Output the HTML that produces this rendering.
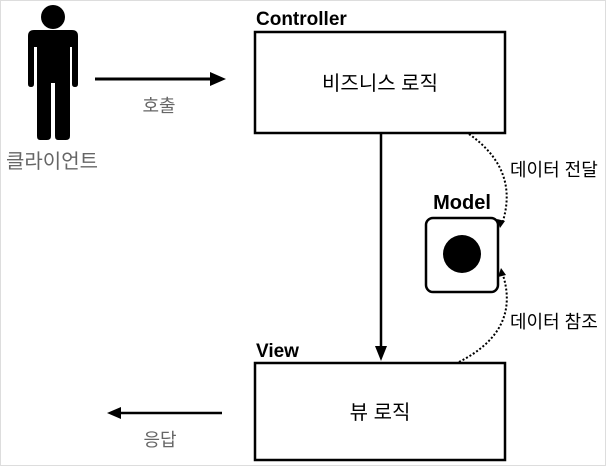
<!DOCTYPE html><html><head><style>body{margin:0;background:#fff}</style></head><body>
<svg width="606" height="466" xmlns="http://www.w3.org/2000/svg" font-family="Liberation Sans, Noto Sans CJK KR, sans-serif">
<rect x="0.5" y="0.5" width="605" height="465" fill="#fff" stroke="#ddd"/>
<circle cx="53" cy="17" r="12"/>
<path d="M34 30 H72 Q78 30 78 36 V84 Q78 87 75 87 Q72 87 72 84 V47 H70 V136 Q70 140 66 140 H58 Q55 140 55 136 V83 H51 V136 Q51 140 47 140 H40 Q37 140 37 136 V47 H34 V84 Q34 87 31 87 Q28 87 28 84 V36 Q28 30 34 30Z"/>
<text x="52" y="168" font-size="20" fill="#666" text-anchor="middle">클라이언트</text>
<line x1="95" y1="79" x2="212" y2="79" stroke="#000" stroke-width="3"/>
<path d="M226 79 L210 72 V86Z"/>
<text x="159" y="112" font-size="18" fill="#666" text-anchor="middle">호출</text>
<text x="256" y="25" font-size="19" font-weight="bold">Controller</text>
<rect x="255" y="32" width="250" height="101" fill="#fff" stroke="#000" stroke-width="2.5"/>
<text x="380" y="90" font-size="20" text-anchor="middle">비즈니스 로직</text>
<line x1="381" y1="133" x2="381" y2="348" stroke="#000" stroke-width="2.5"/>
<path d="M381 361 L375 346 H387Z"/>
<text x="256" y="357" font-size="19" font-weight="bold">View</text>
<rect x="255" y="363" width="250" height="97" fill="#fff" stroke="#000" stroke-width="2.5"/>
<text x="380" y="419" font-size="20" text-anchor="middle">뷰 로직</text>
<line x1="222" y1="413" x2="118" y2="413" stroke="#000" stroke-width="2.5"/>
<path d="M107 413 L121 407 V419Z"/>
<text x="160" y="446" font-size="18" fill="#666" text-anchor="middle">응답</text>
<text x="462" y="209" font-size="20" font-weight="bold" text-anchor="middle">Model</text>
<rect x="426" y="218" width="72" height="74" rx="7" fill="#fff" stroke="#000" stroke-width="2.5"/>
<circle cx="462" cy="254" r="19"/>
<path d="M469 134 Q520 170 502 224" fill="none" stroke="#000" stroke-width="2" stroke-dasharray="2 2"/>
<path d="M500 228 L497 219 L505 221Z"/>
<path d="M459 362 Q522 330 502 272" fill="none" stroke="#000" stroke-width="2" stroke-dasharray="2 2"/>
<path d="M501 268 L498 277 L506 275Z"/>
<text x="510" y="176" font-size="18">데이터 전달</text>
<text x="510" y="328" font-size="18">데이터 참조</text>
</svg>
</body></html>
